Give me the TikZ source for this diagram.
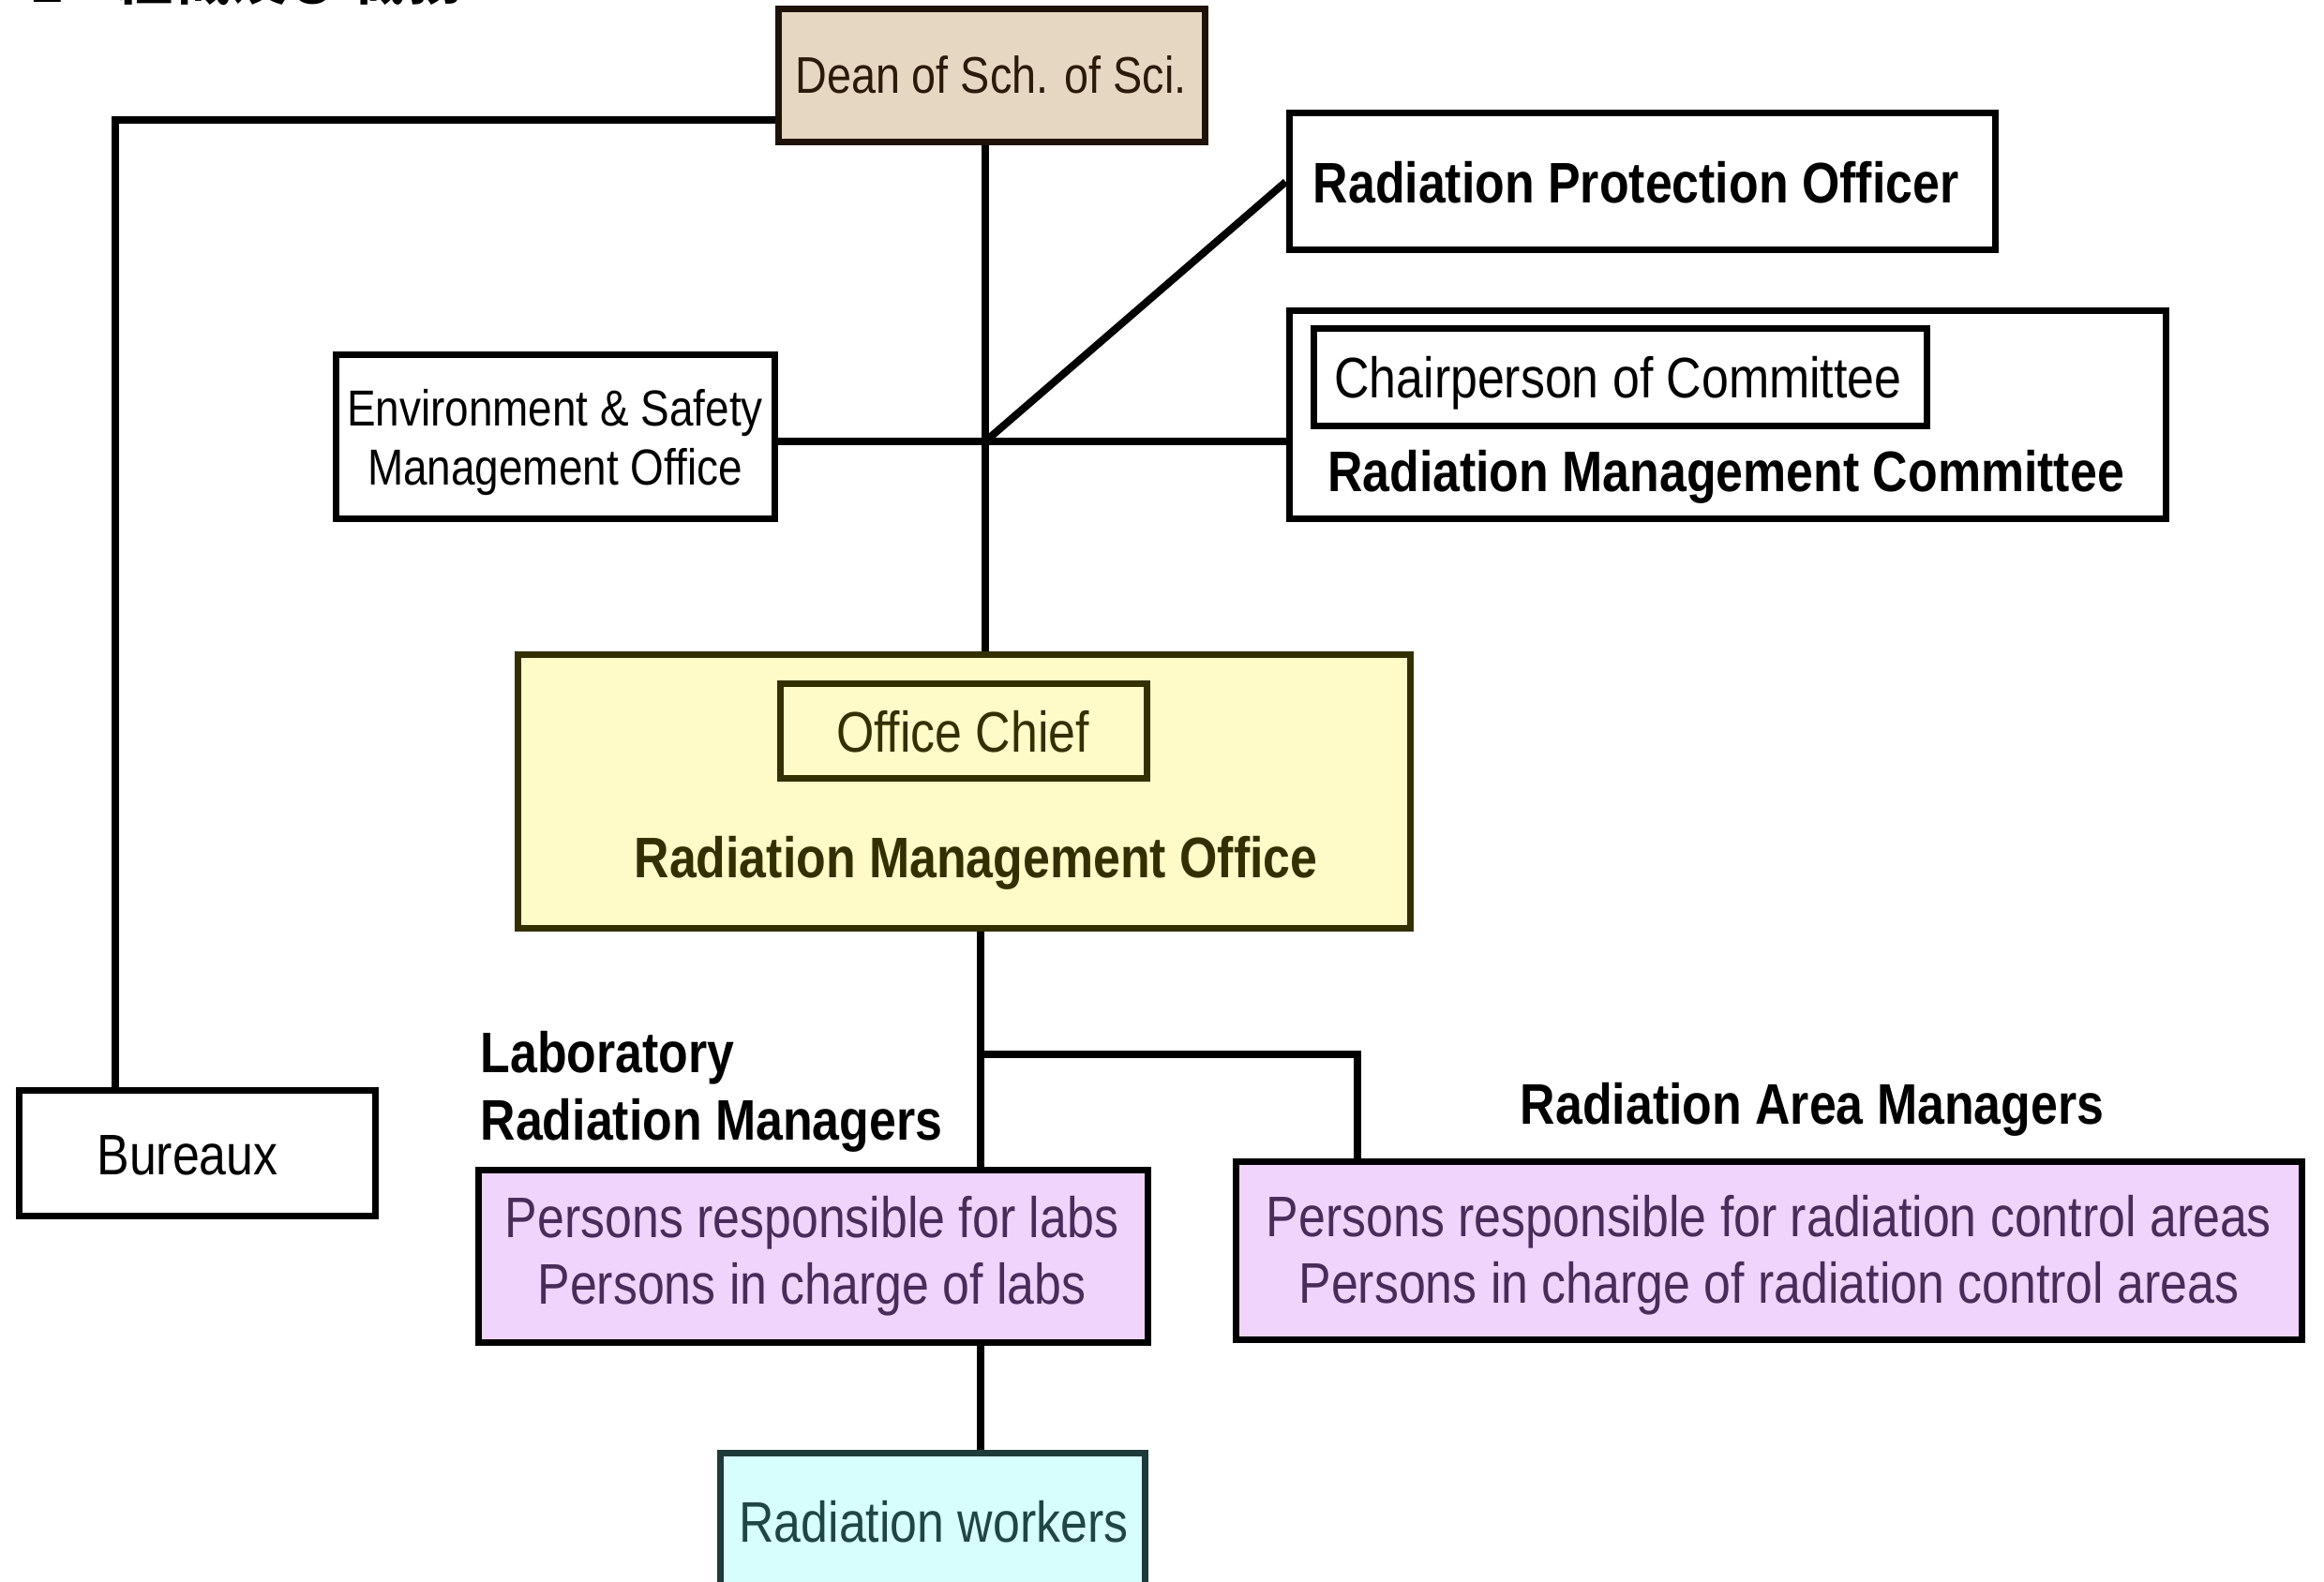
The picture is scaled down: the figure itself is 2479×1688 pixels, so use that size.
\documentclass[tikz,border=0pt]{standalone}
\usepackage{fontspec}
\setmainfont{Liberation Sans}[FakeStretch=0.85]
\newfontfamily\jpfont{Noto Sans CJK JP}
\newfontfamily\numfont{Liberation Sans}
\usetikzlibrary{fit}
\definecolor{deanfill}{HTML}{E6D7C3}
\definecolor{deandraw}{HTML}{1E1207}
\definecolor{deantext}{HTML}{2B1A0A}
\definecolor{rmofill}{HTML}{FFFBC8}
\definecolor{rmodraw}{HTML}{333000}
\definecolor{labfill}{HTML}{F0D4FC}
\definecolor{labtext}{HTML}{4A2C5A}
\definecolor{wkfill}{HTML}{D8FDFD}
\definecolor{wkdraw}{HTML}{1E3A3A}
\definecolor{wktext}{HTML}{1F4545}
\begin{document}
\begin{tikzpicture}[x=0.3pt,y=-0.3pt,
  box/.style={draw=black, line width=2.1pt, inner sep=0pt, line join=miter},
  conn/.style={line width=2.4pt, line join=miter},
  txt/.style={anchor=base, inner sep=0pt, font=\fontsize{18.3pt}{22pt}\selectfont},
  btxt/.style={anchor=base, inner sep=0pt, font=\bfseries\fontsize{18.3pt}{22pt}\selectfont},
  smalltxt/.style={anchor=base, inner sep=0pt, font=\fontsize{16.2pt}{19pt}\selectfont}]
\useasboundingbox (0,0) rectangle (2479,1688);
\clip (0,0) rectangle (2479,1688);
% title (cut off at the top edge, as in the reference)
\node[anchor=base west, inner sep=0pt, font=\numfont\bfseries\fontsize{18.6pt}{20pt}\selectfont] (titlenum) at (32,3) {1};
\node[anchor=base west, inner sep=0pt, font=\jpfont\bfseries\fontsize{18.6pt}{20pt}\selectfont] (title) at (122,0) {組織及び職務};
% boxes
\node[box, fill=deanfill, draw=deandraw, fit={(830,10) (1285,152)}] (dean) {};
\node[box, fill=white, fit={(358,379) (826,554)}] (env) {};
\node[box, fill=white, fit={(1375,121) (2128,267)}] (rpo) {};
\node[box, fill=white, fit={(1375,332) (2310,554)}] (rmc) {};
\node[box, fill=white, fit={(1401,351) (2055,455)}] (chair) {};
\node[box, fill=rmofill, draw=rmodraw, fit={(552,699) (1504,990)}] (rmo) {};
\node[box, fill=rmofill, draw=rmodraw, fit={(832,730) (1223,831)}] (chief) {};
\node[box, fill=white, fit={(20,1163) (400,1297)}] (bureaux) {};
\node[box, fill=labfill, fit={(510,1248) (1224,1432)}] (lab) {};
\node[box, fill=labfill, fit={(1318,1239) (2455,1429)}] (area) {};
\node[box, fill=wkfill, draw=wkdraw, fit={(768,1550) (1221,1700)}] (workers) {};
% texts
\node[txt, text=deantext, font=\fontsize{16.5pt}{20pt}\selectfont] (deanT) at (1057,100) {Dean of Sch. of Sci.};
\node[smalltxt] (envT1) at (592,455) {Environment \& Safety};
\node[smalltxt] (envT2) at (592,518) {Management Office};
\node[btxt] (rpoT) at (1745,217) {Radiation Protection Officer};
\node[txt] (chairT) at (1726,425) {Chairperson of Committee};
\node[btxt] (rmcT) at (1841,525) {Radiation Management Committee};
\node[txt, text=rmodraw] (chiefT) at (1027,802) {Office Chief};
\node[btxt, text=rmodraw] (rmoT) at (1041,937) {Radiation Management Office};
\node[txt] (burT) at (200,1253) {Bureaux};
\node[btxt, anchor=base west] (labL1) at (512,1144) {Laboratory};
\node[btxt, anchor=base west] (labL2) at (512,1216) {Radiation Managers};
\node[btxt] (areaL) at (1933,1199) {Radiation Area Managers};
\node[txt, text=labtext] (labT1) at (866,1320) {Persons responsible for labs};
\node[txt, text=labtext] (labT2) at (866,1391) {Persons in charge of labs};
\node[txt, text=labtext] (areaT1) at (1887,1319) {Persons responsible for radiation control areas};
\node[txt, text=labtext] (areaT2) at (1887,1390) {Persons in charge of radiation control areas};
\node[txt, text=wktext] (wkT) at (996,1645) {Radiation workers};
% junction points
\coordinate (j1) at (1051,471);
\coordinate (cb) at (123,128);
\coordinate (j2) at (1046,1125);
\coordinate (j3) at (1448,1125);
% connectors
\draw[conn] (dean.south -| j1) -- (j1) -- (j1 |- rmo.north);
\draw[conn] (dean.west |- cb) -- (cb) -- (cb |- bureaux.north);
\draw[conn] (env.east |- j1) -- (rmc.west |- j1);
\draw[conn] (j1) -- (rpo.west);
\draw[conn] (rmo.south -| j2) -- (j2 |- lab.north);
\draw[conn] (j2) -- (j3) -- (j3 |- area.north);
\draw[conn] (lab.south -| j2) -- (j2 |- workers.north);
\end{tikzpicture}
\end{document}
